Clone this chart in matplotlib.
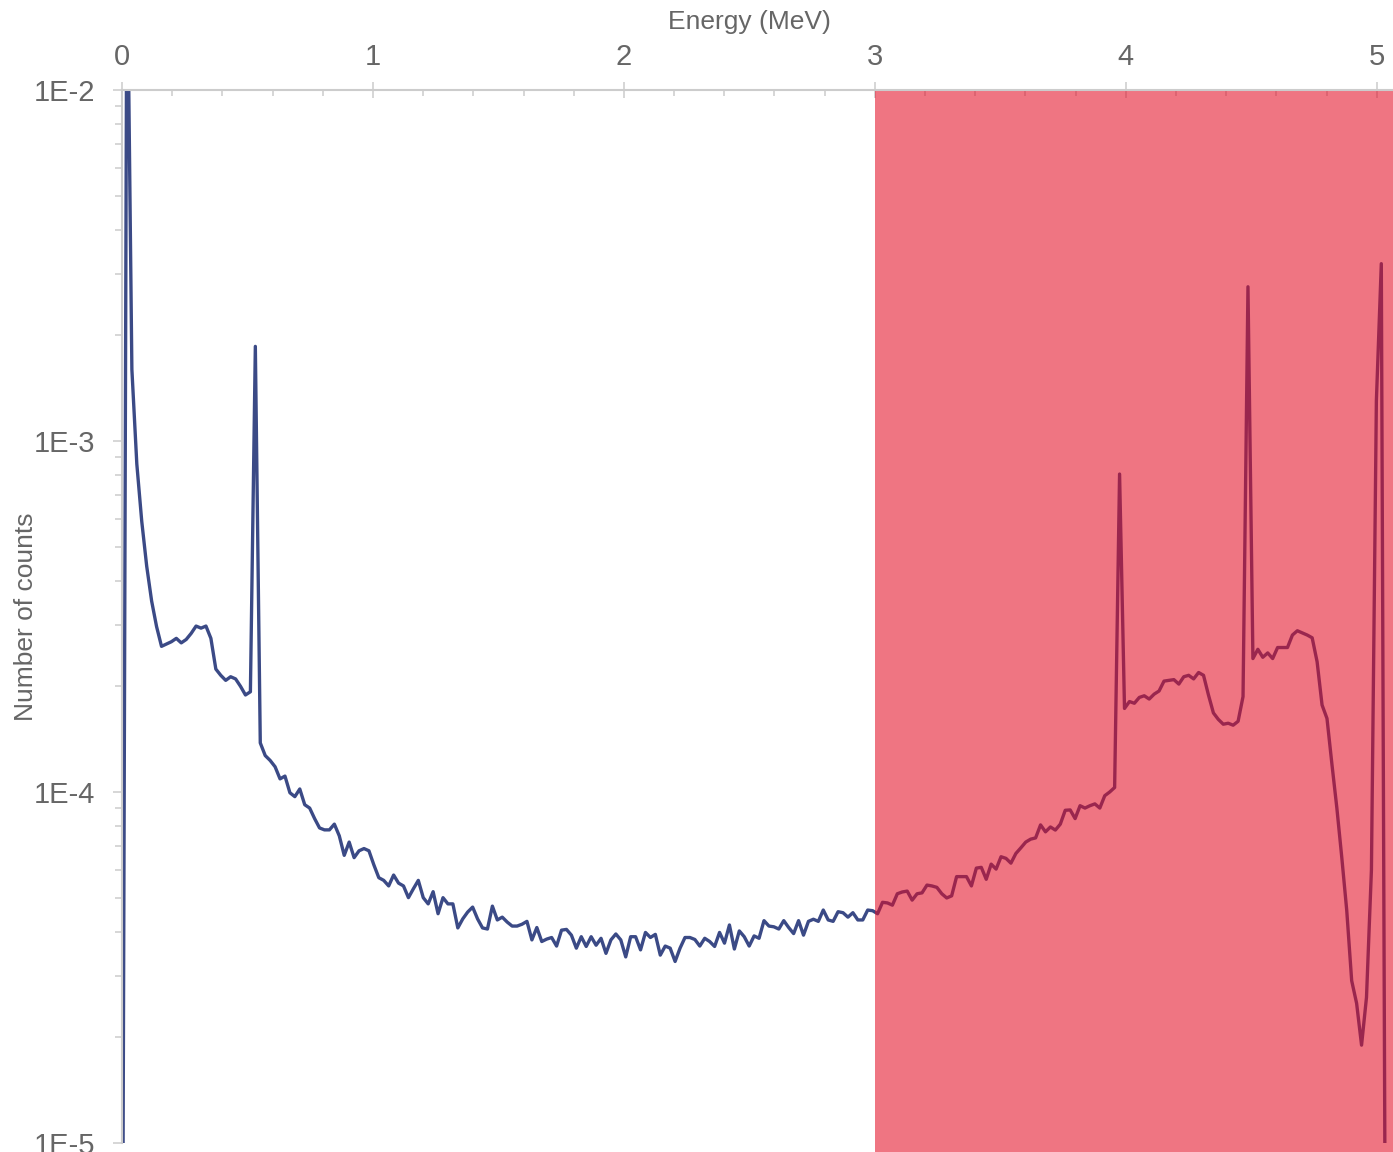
import numpy as np
import matplotlib
matplotlib.use("Agg")
from matplotlib import pyplot as plt
from matplotlib.ticker import MultipleLocator, LogLocator, FuncFormatter, NullFormatter

plt.rcParams['font.family'] = ['Liberation Sans', 'DejaVu Sans']

# spectrum: counts per energy bin (bins start at 0 MeV)
bin_width = 0.01968
counts = [
    1e-6, 3e-2, 1.6e-3, 8.6e-4, 5.9e-4, 4.4e-4, 3.5e-4, 2.96e-4, 2.6e-4, 2.64e-4,
    2.68e-4, 2.74e-4, 2.66e-4, 2.72e-4, 2.83e-4, 2.97e-4, 2.93e-4, 2.97e-4, 2.74e-4, 2.24e-4,
    2.15e-4, 2.08e-4, 2.13e-4, 2.10e-4, 2.0e-4, 1.89e-4, 1.93e-4, 1.86e-3, 1.38e-4, 1.27e-4,
    1.23e-4, 1.18e-4, 1.09e-4, 1.11e-4, 9.95e-5, 9.7e-5, 1.02e-4, 9.2e-5, 9.0e-5, 8.4e-5,
    7.9e-5, 7.8e-5, 7.8e-5, 8.1e-5, 7.5e-5, 6.6e-5, 7.2e-5, 6.5e-5, 6.8e-5, 6.9e-5,
    6.8e-5, 6.2e-5, 5.7e-5, 5.6e-5, 5.4e-5, 5.8e-5, 5.5e-5, 5.4e-5, 5.0e-5, 5.3e-5,
    5.6e-5, 5.0e-5, 4.8e-5, 5.2e-5, 4.5e-5, 5.0e-5, 4.8e-5, 4.8e-5, 4.1e-5, 4.35e-5,
    4.55e-5, 4.7e-5, 4.35e-5, 4.1e-5, 4.07e-5, 4.73e-5, 4.32e-5, 4.4e-5, 4.26e-5, 4.15e-5,
    4.15e-5, 4.2e-5, 4.28e-5, 3.79e-5, 4.11e-5, 3.75e-5, 3.81e-5, 3.85e-5, 3.64e-5, 4.04e-5,
    4.06e-5, 3.91e-5, 3.59e-5, 3.87e-5, 3.63e-5, 3.87e-5, 3.66e-5, 3.83e-5, 3.47e-5, 3.79e-5,
    3.94e-5, 3.79e-5, 3.39e-5, 3.87e-5, 3.87e-5, 3.55e-5, 3.98e-5, 3.85e-5, 3.93e-5, 3.43e-5,
    3.64e-5, 3.59e-5, 3.29e-5, 3.59e-5, 3.85e-5, 3.85e-5, 3.8e-5, 3.64e-5, 3.83e-5, 3.75e-5,
    3.63e-5, 3.98e-5, 3.71e-5, 4.18e-5, 3.57e-5, 4.02e-5, 3.87e-5, 3.64e-5, 3.89e-5, 3.83e-5,
    4.3e-5, 4.15e-5, 4.13e-5, 4.07e-5, 4.3e-5, 4.11e-5, 3.95e-5, 4.3e-5, 3.91e-5, 4.28e-5,
    4.34e-5, 4.28e-5, 4.61e-5, 4.32e-5, 4.28e-5, 4.56e-5, 4.53e-5, 4.4e-5, 4.53e-5, 4.32e-5,
    4.32e-5, 4.61e-5, 4.59e-5, 4.5e-5, 4.85e-5, 4.83e-5, 4.76e-5, 5.13e-5, 5.19e-5, 5.22e-5,
    4.92e-5, 5.13e-5, 5.16e-5, 5.43e-5, 5.4e-5, 5.35e-5, 5.13e-5, 4.99e-5, 5.06e-5, 5.74e-5,
    5.74e-5, 5.74e-5, 5.4e-5, 6.07e-5, 6.1e-5, 5.64e-5, 6.23e-5, 6.03e-5, 6.54e-5, 6.47e-5,
    6.27e-5, 6.68e-5, 6.93e-5, 7.2e-5, 7.34e-5, 7.4e-5, 8.06e-5, 7.7e-5, 7.95e-5, 7.79e-5,
    8.1e-5, 8.87e-5, 8.89e-5, 8.4e-5, 9.14e-5, 9.0e-5, 9.14e-5, 9.25e-5, 9.0e-5, 9.76e-5,
    1.0e-4, 1.03e-4, 8.05e-4, 1.73e-4, 1.81e-4, 1.79e-4, 1.86e-4, 1.88e-4, 1.84e-4, 1.9e-4,
    1.94e-4, 2.07e-4, 2.08e-4, 2.09e-4, 2.03e-4, 2.13e-4, 2.15e-4, 2.1e-4, 2.19e-4, 2.15e-4,
    1.89e-4, 1.68e-4, 1.61e-4, 1.56e-4, 1.57e-4, 1.55e-4, 1.59e-4, 1.87e-4, 2.75e-3, 2.4e-4,
    2.55e-4, 2.42e-4, 2.49e-4, 2.4e-4, 2.58e-4, 2.58e-4, 2.58e-4, 2.8e-4, 2.88e-4, 2.84e-4,
    2.8e-4, 2.75e-4, 2.35e-4, 1.77e-4, 1.62e-4, 1.2e-4, 9.0e-5, 6.5e-5, 4.6e-5, 2.9e-5,
    2.5e-5, 1.9e-5, 2.6e-5, 6.0e-5, 1.3e-3, 3.2e-3, 1e-6,
]
energy = np.arange(len(counts)) * bin_width

band_start = 3.0
band_end = 5.065
x_ticks = [0, 1, 2, 3, 4, 5]
y_ticks = [1e-5, 1e-4, 1e-3, 1e-2]

grey_txt = '#666666'
grey_line = '#cccccc'

fig = plt.figure(figsize=(13.93, 11.52), dpi=100)
ax = fig.add_axes([122 / 1393, 9 / 1152, 1 - 122 / 1393, 1053 / 1152])

ax.plot(energy, counts, color='#3b4a86', lw=2.4, zorder=2,
        solid_joinstyle='round', solid_capstyle='round')
# band runs down to the bottom edge of the picture
ax.axvspan(band_start, band_end, ymin=-0.01, ymax=1, color='#e30c24', alpha=0.57,
           lw=0, zorder=3, clip_on=False)

ax.set_yscale('log')
ax.set_ylim(1e-5, 1e-2)
ax.set_xlim(0, band_end)

# x axis on top
ax.xaxis.tick_top()
ax.xaxis.set_label_position('top')
ax.set_xticks(x_ticks)
ax.xaxis.set_minor_locator(MultipleLocator(0.2))
ax.tick_params(axis='x', which='major', direction='inout', length=12, width=1.1,
               color=grey_line, labelsize=21, labelcolor=grey_txt, pad=8)
ax.tick_params(axis='x', which='minor', direction='in', length=4.5, width=1.1,
               color=grey_line)

ax.set_yticks(y_ticks)
ax.yaxis.set_major_formatter(FuncFormatter(lambda v, p: '1E%d' % round(np.log10(v))))
ax.yaxis.set_minor_locator(LogLocator(base=10, subs=np.arange(2, 10)))
ax.yaxis.set_minor_formatter(NullFormatter())
ax.tick_params(axis='y', which='major', direction='out', length=6.5, width=1.1,
               color=grey_line, labelsize=21, labelcolor=grey_txt, pad=13)
ax.tick_params(axis='y', which='minor', direction='out', length=5, width=1.1,
               color=grey_line)

for s in ['right', 'bottom']:
    ax.spines[s].set_visible(False)
for s in ['top', 'left']:
    ax.spines[s].set_color(grey_line)
    ax.spines[s].set_linewidth(1.5)
    ax.spines[s].set_zorder(4)

ax.set_xlabel('Energy (MeV)', fontsize=19, color=grey_txt)
ax.xaxis.set_label_coords(0.494, 1.0 + 61 / 1053)
ax.set_ylabel('Number of counts', fontsize=19, color=grey_txt)
ax.yaxis.set_label_coords(-84 / 1271, 0.50)

fig.savefig('out.png', dpi=100)
